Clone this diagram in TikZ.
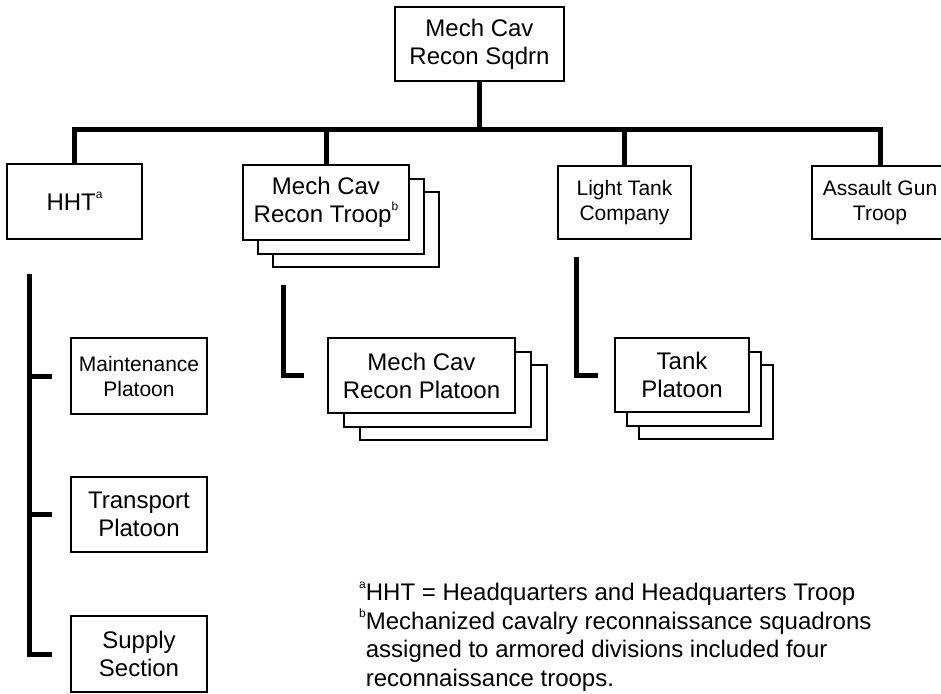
\documentclass[tikz,border=0pt]{standalone}
\usepackage{fontspec}
\setmainfont{Liberation Sans}
\usetikzlibrary{positioning,backgrounds}

\newcommand{\fnmark}[1]{\raisebox{0.5em}{\fontsize{12}{12}\selectfont #1}}

\begin{document}
\begin{tikzpicture}[
        x=1pt, y=-1pt,
        font=\fontsize{24}{28}\selectfont,
        box/.style={rectangle, draw, line width=2pt, fill=white, align=center,
            inner sep=0pt, outer sep=0pt, minimum height=75pt},
        smalltext/.style={font=\fontsize{21}{25}\selectfont},
        sheet/.style={draw, line width=2pt, fill=white},
        link/.style={line width=5pt}
    ]
        \useasboundingbox (0,0) rectangle (941,693);

        % squadron and its troops
        \node[box, minimum width=169pt, minimum height=74pt] (sqdrn) at (479.5,44) {Mech Cav\\Recon Sqdrn};
        \node[box, minimum width=135pt] (hht) at (74.5,201.5) {HHT\fnmark{a}};
        \node[box, minimum width=166pt] (troop) at (326,202.5) {Mech Cav\\Recon Troop\fnmark{b}};
        \node[box, smalltext, minimum width=133pt, minimum height=73pt] (lttank) at (624.5,202.5) {Light Tank\\Company};
        \node[box, smalltext, minimum width=136pt, minimum height=73pt] (assault) at (880,202.5) {Assault Gun\\Troop};

        % HHT elements
        \node[box, smalltext, minimum width=136pt, minimum height=76pt] (maint) at (139,376) {Maintenance\\Platoon};
        \node[box, minimum width=136pt] (transp) at (139,514.5) {Transport\\Platoon};
        \node[box, minimum width=136pt, minimum height=76pt] (supply) at (139,654) {Supply\\Section};

        % platoons
        \node[box, minimum width=187pt] (recon) at (421.5,375.5) {Mech Cav\\Recon Platoon};
        \node[box, minimum width=134pt, minimum height=74pt] (tankplt) at (682,375) {Tank\\Platoon};

        \begin{scope}[on background layer]
            \foreach \n/\dx in {troop/15, recon/16, tankplt/12} {
                \foreach \k in {2,1}
                    \draw[sheet] ([shift={(\k*\dx,\k*13.5)}]\n.north west) rectangle ([shift={(\k*\dx,\k*13.5)}]\n.south east);
            }
        \end{scope}

        \coordinate (bus) at (479.5,129.5);
        \draw[link] (sqdrn.south) -- (bus);
        \draw[link] (hht.north) |- (bus) -| (assault.north);
        \draw[link] (troop.north) -- (troop.north |- bus);
        \draw[link] (lttank.north) -- (lttank.north |- bus);

        \coordinate (hhtline) at (29,274);
        \draw[link] (hhtline) |- ([xshift=-19pt]supply.west);
        \draw[link] (maint.west -| hhtline) -- ([xshift=-19pt]maint.west);
        \draw[link] (transp.west -| hhtline) -- ([xshift=-19pt]transp.west);

        \coordinate (troopline) at (283,285);
        \draw[link] (troopline) |- ([xshift=-24pt]recon.west);
        \coordinate (tankline) at (576,257);
        \draw[link] (tankline) |- ([xshift=-17pt]tankplt.west);

        \node[align=left, anchor=base west, inner sep=0pt, font=\fontsize{24}{28.5}\selectfont] (notes) at (359,686) {
            \fnmark{a}HHT = Headquarters and Headquarters Troop\\
            \fnmark{b}Mechanized cavalry reconnaissance squadrons\\
            \phantom{\fnmark{b}}assigned to armored divisions included four\\
            \phantom{\fnmark{b}}reconnaissance troops.
        };
    \end{tikzpicture}
\end{document}
